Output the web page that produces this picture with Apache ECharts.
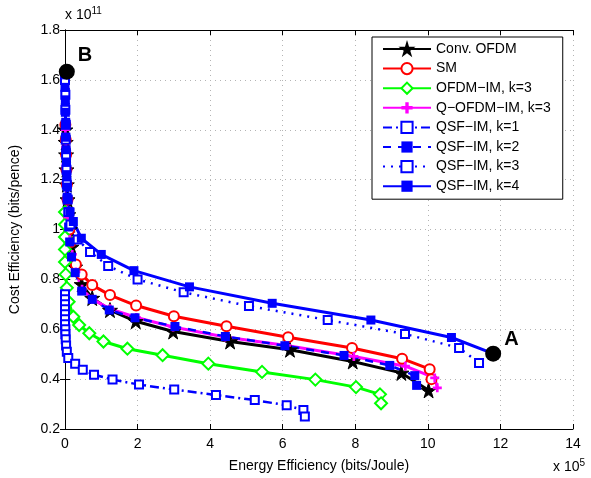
<!DOCTYPE html>
<html><head><meta charset="utf-8">
<script src="https://cdn.jsdelivr.net/npm/echarts@6/dist/echarts.min.js"></script>
<style>html,body{margin:0;padding:0;background:#fff}#c{width:591px;height:478px}</style>
</head><body><div id="c"></div>
<script>
// Tick labels (x in units of 1e5, y in units of 1e11)
const xTicks = [0, 2, 4, 6, 8, 10, 12, 14];
const yTicks = [0.2, 0.4, 0.6, 0.8, 1, 1.2, 1.4, 1.6, 1.8];
const seriesNames = ['Conv. OFDM', 'SM', 'OFDM\u2212IM, k=3', 'Q\u2212OFDM\u2212IM, k=3',
  'QSF\u2212IM, k=1', 'QSF\u2212IM, k=2', 'QSF\u2212IM, k=3', 'QSF\u2212IM, k=4'];

// [energy efficiency (x1e5), cost efficiency (x1e11)]
const convOFDM = [[0.01,1.40],[0.02,1.35],[0.03,1.30],[0.04,1.24],[0.05,1.18],[0.07,1.12],[0.09,1.06],[0.13,1.00],[0.18,0.93],[0.28,0.85],[0.46,0.78],[0.75,0.725],[1.24,0.677],[1.95,0.632],[2.98,0.591],[4.55,0.551],[6.2,0.518],[7.93,0.471],[9.27,0.425],[10.02,0.355]];
const smData = [[0.01,1.42],[0.02,1.36],[0.03,1.30],[0.04,1.24],[0.05,1.18],[0.07,1.12],[0.09,1.06],[0.12,1.00],[0.16,0.95],[0.30,0.86],[0.46,0.82],[0.75,0.777],[1.24,0.737],[1.96,0.695],[3.0,0.652],[4.45,0.612],[6.15,0.568],[7.91,0.525],[9.29,0.482],[10.05,0.44],[10.1,0.40]];
const ofdmIM3 = [[0.0,1.07],[0.0,1.02],[0.0,0.97],[0.0,0.92],[0.0,0.87],[0.02,0.82],[0.05,0.766],[0.1,0.71],[0.23,0.65],[0.39,0.617],[0.67,0.584],[1.06,0.551],[1.72,0.522],[2.69,0.496],[3.95,0.462],[5.43,0.429],[6.9,0.398],[8.02,0.368],[8.68,0.339],[8.71,0.303]];
const qOfdmIM3 = [[0.01,1.40],[0.02,1.33],[0.03,1.26],[0.04,1.19],[0.06,1.12],[0.08,1.05],[0.13,0.96],[0.2,0.90],[0.3,0.83],[0.47,0.76],[0.76,0.72],[1.24,0.682],[1.97,0.647],[2.98,0.609],[4.41,0.569],[6.1,0.535],[7.96,0.491],[9.38,0.452],[10.19,0.405],[10.26,0.365]];
const qsf1 = [[0.0,0.74],[0.0,0.72],[0.0,0.70],[0.0,0.68],[0.0,0.66],[0.0,0.64],[0.0,0.62],[0.01,0.60],[0.01,0.58],[0.02,0.56],[0.03,0.535],[0.05,0.51],[0.09,0.485],[0.28,0.462],[0.49,0.438],[0.8,0.418],[1.31,0.398],[2.04,0.378],[3.01,0.358],[4.16,0.336],[5.23,0.316],[6.11,0.295],[6.57,0.276],[6.61,0.25]];
const qsf2 = [[0.01,1.55],[0.01,1.49],[0.02,1.43],[0.02,1.37],[0.03,1.31],[0.04,1.25],[0.05,1.19],[0.06,1.13],[0.08,1.07],[0.1,1.01],[0.13,0.95],[0.18,0.89],[0.28,0.827],[0.46,0.753],[0.75,0.72],[1.22,0.677],[1.93,0.646],[3.03,0.611],[4.42,0.571],[6.06,0.534],[7.69,0.495],[8.95,0.455],[9.64,0.414],[9.69,0.375]];
const qsf3 = [[0.0,1.60],[0.01,1.54],[0.01,1.48],[0.02,1.42],[0.02,1.36],[0.03,1.30],[0.04,1.24],[0.05,1.18],[0.07,1.12],[0.1,1.07],[0.15,1.02],[0.35,0.96],[0.69,0.91],[1.19,0.854],[2.0,0.80],[3.27,0.748],[5.07,0.693],[7.24,0.637],[9.37,0.581],[10.86,0.525],[11.41,0.465]];
const qsf4 = [[0.0,1.62],[0.0,1.57],[0.01,1.52],[0.01,1.47],[0.02,1.42],[0.02,1.37],[0.03,1.32],[0.04,1.27],[0.05,1.22],[0.06,1.17],[0.08,1.12],[0.14,1.07],[0.23,1.032],[0.45,0.965],[1.0,0.9],[1.9,0.835],[3.43,0.77],[5.71,0.704],[8.43,0.637],[10.65,0.567],[11.8,0.502]];
const pointA = [11.8, 0.502];
const pointB = [0.05, 1.633];

const FONT = 'Liberation Sans';
const STAR = 'path://M50,0 L61,35 L98,35 L68,57 L79,91 L50,70 L21,91 L32,57 L2,35 L39,35 Z';
const PLUS = 'path://M3.5,0H6.5V3.5H10V6.5H6.5V10H3.5V6.5H0V3.5H3.5Z';

function lineSeries(name, data, color, symbol, size, lineType, lineWidth, borderW) {
  return {
    name, type: 'line', data, symbol, symbolSize: size, showSymbol: true, showAllSymbol: true,
    lineStyle: { color, width: lineWidth, type: lineType },
    itemStyle: { color, borderColor: color, borderWidth: borderW },
    emphasis: { disabled: true },
    animation: false, z: 3
  };
}

const chart = echarts.init(document.getElementById('c'), null, { renderer: 'canvas' });
const axisCommon = {
  axisLine: { show: true, lineStyle: { color: '#000', width: 1 } },
  axisTick: { show: true, inside: true, length: 5, lineStyle: { color: '#000' } },
};
chart.setOption({
  backgroundColor: '#fff',
  animation: false,
  textStyle: { fontFamily: FONT },
  grid: { left: 65, top: 30, right: 18, bottom: 47 },
  xAxis: [
    Object.assign({ type: 'value', min: xTicks[0], max: xTicks[xTicks.length - 1], interval: xTicks[1] - xTicks[0],
      position: 'bottom',
      name: 'Energy Efficiency (bits/Joule)', nameLocation: 'middle', nameGap: 30,
      nameTextStyle: { color: '#000', fontSize: 14, fontFamily: FONT },
      axisLabel: { color: '#000', fontSize: 14, fontFamily: FONT, margin: 8 },
      splitLine: { show: true, lineStyle: { color: '#b4b4b4', type: [1, 4], width: 1 } } }, axisCommon),
    Object.assign({ type: 'value', min: xTicks[0], max: xTicks[xTicks.length - 1], interval: xTicks[1] - xTicks[0],
      position: 'top', axisLabel: { show: false }, splitLine: { show: false } }, axisCommon)
  ],
  yAxis: [
    Object.assign({ type: 'value', min: yTicks[0], max: yTicks[yTicks.length - 1], interval: 0.2,
      position: 'left',
      name: 'Cost Efficiency (bits/pence)', nameLocation: 'middle', nameGap: 43, nameRotate: 90,
      nameTextStyle: { color: '#000', fontSize: 14, fontFamily: FONT },
      axisLabel: { color: '#000', fontSize: 14, fontFamily: FONT, margin: 5,
        formatter: v => String(+v.toFixed(1)) },
      splitLine: { show: true, lineStyle: { color: '#b4b4b4', type: [1, 4], width: 1 } } }, axisCommon),
    Object.assign({ type: 'value', min: yTicks[0], max: yTicks[yTicks.length - 1], interval: 0.2,
      position: 'right', axisLabel: { show: false }, splitLine: { show: false } }, axisCommon)
  ],
  legend: {
    data: seriesNames, orient: 'vertical', left: 372, top: 37,
    width: 190, padding: [5, 12, 6, 10], itemWidth: 48, itemHeight: 14, itemGap: 5.6,
    backgroundColor: '#fff', borderColor: '#000', borderWidth: 1, borderRadius: 0,
    textStyle: { color: '#000', fontSize: 14, fontFamily: FONT }
  },
  graphic: [
    { type: 'text', left: 65, top: 6, style: { rich: { a: { fontSize: 14, fontFamily: FONT, fill: '#000' }, s: { fontSize: 10, fontFamily: FONT, fill: '#000', verticalAlign: 'top', padding: [0, 0, 8, 0] } }, text: '{a|x 10}{s|11}' } },
    { type: 'text', left: 553, top: 458, style: { rich: { a: { fontSize: 14, fontFamily: FONT, fill: '#000' }, s: { fontSize: 10, fontFamily: FONT, fill: '#000', padding: [0, 0, 8, 0] } }, text: '{a|x 10}{s|5}' } }
  ],
  series: [
    lineSeries(seriesNames[0], convOFDM, '#000000', STAR, 15, 'solid', 3, 1),
    lineSeries(seriesNames[1], smData, '#ff0000', 'emptyCircle', 10, 'solid', 3, 2.5),
    lineSeries(seriesNames[2], ofdmIM3, '#00ff00', 'emptyDiamond', 12, 'solid', 3, 3),
    lineSeries(seriesNames[3], qOfdmIM3, '#ff00ff', PLUS, 9, 'solid', 3, 0),
    lineSeries(seriesNames[4], qsf1, '#0000ff', 'emptyRect', 8, [9, 4, 2, 4], 2.5, 2.5),
    lineSeries(seriesNames[5], qsf2, '#0000ff', 'rect', 9, [8, 7], 2.5, 0),
    lineSeries(seriesNames[6], qsf3, '#0000ff', 'emptyRect', 8, [2, 6], 2.5, 2.5),
    lineSeries(seriesNames[7], qsf4, '#0000ff', 'rect', 9, 'solid', 3, 0),
    { name: 'points', type: 'scatter', data: [
        { value: pointA, label: { show: true, formatter: 'A', position: [19, -16] } },
        { value: pointB, label: { show: true, formatter: 'B', position: [19, -18] } }],
      symbol: 'circle', symbolSize: 16, itemStyle: { color: '#000', opacity: 1 }, z: 10,
      emphasis: { disabled: true },
      label: { color: '#000', fontSize: 20, fontWeight: 'bold', fontFamily: FONT } }
  ]
});
</script></body></html>
